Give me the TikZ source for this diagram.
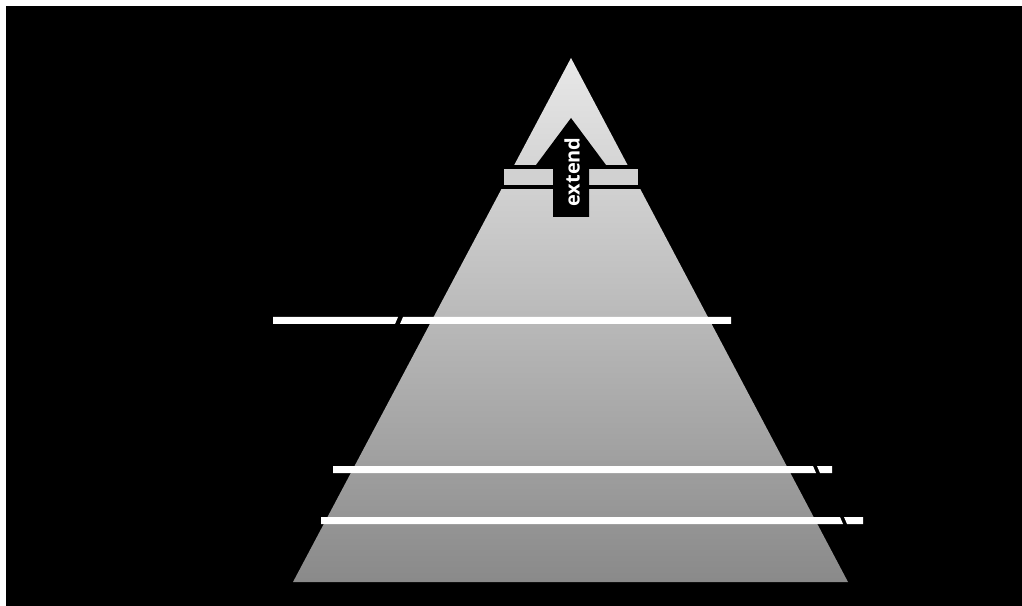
\documentclass[tikz,border=0pt]{standalone}
\usepackage{fontspec}
\newfontfamily\labelfont{Open Sans}
\begin{document}
\begin{tikzpicture}[x=0.75pt, y=-0.75pt,
        bar/.style={fill=white, draw=none},
        cut/.style={fill=black, draw=none},
        every node/.style={font=\labelfont\bfseries\fontsize{15}{18}\selectfont}]
    \useasboundingbox (0,0) rectangle (1022,606);
    \fill[black] (6,6) rectangle (1022,606);
    % pyramid
    \shade[top color=black!9, bottom color=black!46]
        (571,58) -- (848,582) -- (293,582) -- cycle;
    % extension slice near the top
    \fill[cut] (480,165) rectangle (660,189);
    \fill[black!18] (504,169) rectangle (638,185);
    \fill[cut] (553,217) -- (553,165) -- (536,165) -- (571,118)
        -- (606,165) -- (589,165) -- (589,217) -- cycle;
    \node[text=white, rotate=90, inner sep=0pt] (extend) at (572,172) {extend};
    % level bars
    \fill[bar] (273,317) -- (398,317) -- (395,324) -- (273,324) -- cycle;
    \fill[bar] (403,317) -- (731,317) -- (731,324) -- (400,324) -- cycle;
    \fill[bar] (333,466) -- (813,466) -- (816,473) -- (333,473) -- cycle;
    \fill[bar] (817,466) -- (832,466) -- (832,473) -- (820,473) -- cycle;
    \fill[bar] (321,517) -- (840,517) -- (843,524) -- (321,524) -- cycle;
    \fill[bar] (844,517) -- (863,517) -- (863,524) -- (847,524) -- cycle;
    % \draw[bar] (290,420) -- (760,420);
\end{tikzpicture}
\end{document}
